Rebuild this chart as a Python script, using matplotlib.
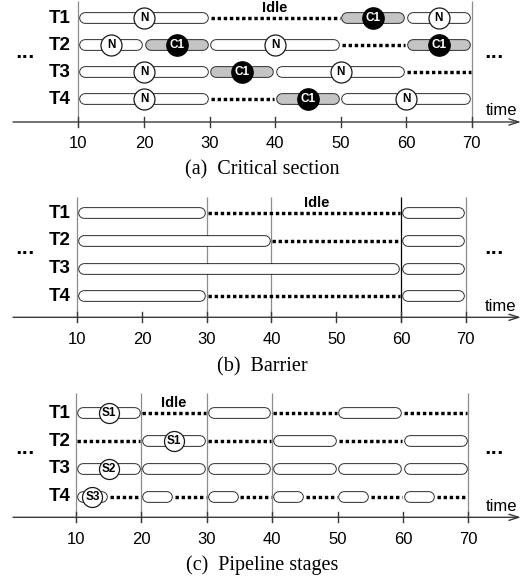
import matplotlib
matplotlib.use("Agg")
import matplotlib.pyplot as plt

plt.rcParams['font.family'] = ['Liberation Sans', 'DejaVu Sans']

W, H = 529, 579

# ---------------- data ----------------
threads = ["T1", "T2", "T3", "T4"]
tick_values = [10, 20, 30, 40, 50, 60, 70]
captions = ["(a)  Critical section", "(b)  Barrier", "(c)  Pipeline stages"]

# (start, end, kind) ; kind: "N"/"C1"/"S1".. labelled bars, "run" plain bar, "idle" dotted
crit_T1 = [(10, 30, "N"), (30, 50, "idle"), (50, 60, "C1"), (60, 70, "N")]
crit_T2 = [(10, 20, "N"), (20, 30, "C1"), (30, 50, "N"), (50, 60, "idle"), (60, 70, "C1")]
crit_T3 = [(10, 30, "N"), (30, 40, "C1"), (40, 60, "N"), (60, 70, "idle")]
crit_T4 = [(10, 30, "N"), (30, 40, "idle"), (40, 50, "C1"), (50, 70, "N")]

barrier_T1 = [(10, 30, "run"), (30, 60, "idle"), (60, 70, "run")]
barrier_T2 = [(10, 40, "run"), (40, 60, "idle"), (60, 70, "run")]
barrier_T3 = [(10, 60, "run"), (60, 70, "run")]
barrier_T4 = [(10, 30, "run"), (30, 60, "idle"), (60, 70, "run")]

pipe_T1 = [(10, 20, "S1"), (20, 30, "idle"), (30, 40, "run"), (40, 50, "idle"),
           (50, 60, "run"), (60, 70, "idle")]
pipe_T2 = [(10, 20, "idle"), (20, 30, "S1"), (30, 40, "idle"), (40, 50, "run"),
           (50, 60, "idle"), (60, 70, "run")]
pipe_T3 = [(10, 20, "S2"), (20, 30, "run"), (30, 40, "run"), (40, 50, "run"),
           (50, 60, "run"), (60, 70, "run")]
pipe_T4 = [(10, 15, "S3"), (15, 20, "idle"), (20, 25, "run"), (25, 30, "idle"),
           (30, 35, "run"), (35, 40, "idle"), (40, 45, "run"), (45, 50, "idle"),
           (50, 55, "run"), (55, 60, "idle"), (60, 65, "run"), (65, 70, "idle")]

vlines_a = [10, 70]
vlines_b = [10, 30, 40, 60, 70]
vlines_c = [10, 20, 30, 40, 70]
dark_vlines_b = [60]
idle_label_x = [40, 47, 25]

# ---------------- layout (pixels) ----------------
panels = [
    dict(top=0, bot=190, T1=18.3, sp=27.0, axis=122.0, vtop=1.0, x10=78.5, x70=471.7, cap=169.5,
         rows=[crit_T1, crit_T2, crit_T3, crit_T4], vl=vlines_a, dark=[], idle=idle_label_x[0],
         caption=captions[0]),
    dict(top=190, bot=385, T1=213.3, sp=27.6, axis=317.3, vtop=196.7, x10=77.3, x70=465.7, cap=366.7,
         rows=[barrier_T1, barrier_T2, barrier_T3, barrier_T4], vl=vlines_b, dark=dark_vlines_b,
         idle=idle_label_x[1], caption=captions[1]),
    dict(top=385, bot=579, T1=413.3, sp=27.8, axis=517.3, vtop=392.7, x10=76.0, x70=468.3, cap=565.0,
         rows=[pipe_T1, pipe_T2, pipe_T3, pipe_T4], vl=vlines_c, dark=[], idle=idle_label_x[2],
         caption=captions[2]),
]

PT = 72.0 / 100.0          # points per pixel
BAR_OUT = 11.6             # px
BAR_IN = 9.8               # px
GAP = 1.0                  # px
EDGE = '#1a1a1a'
GRAY_FILL = '#c4c4c4'
VLINE = '#8c8c8c'
AXC = '#3a3a3a'

fig = plt.figure(figsize=(W / 100, H / 100), dpi=100)

for p in panels:
    ax = fig.add_axes([0, 1 - p['bot'] / H, 1, (p['bot'] - p['top']) / H])
    ax.axis('off')
    scale = (p['x70'] - p['x10']) / 60.0

    def X(px, p=p, scale=scale):
        return 10 + (px - p['x10']) / scale

    def Y(py, p=p):
        return 1 + (py - p['T1']) / p['sp']

    ax.set_xlim(X(0), X(W))
    ax.set_ylim(Y(p['bot']), Y(p['top']))

    # vertical reference lines
    for v in p['vl']:
        col = 'black' if v in p['dark'] else VLINE
        ax.plot([v, v], [Y(p['vtop']), Y(p['axis'] + 5)], color=col, lw=0.9, zorder=1,
                solid_capstyle='butt')

    # time axis with arrow
    ax.annotate("", xy=(X(521), Y(p['axis'])), xytext=(X(13), Y(p['axis'])),
                arrowprops=dict(arrowstyle='->,head_length=0.7,head_width=0.22', lw=1.0,
                                color=AXC, shrinkA=0, shrinkB=0), zorder=2)
    for t in tick_values:
        ax.plot([t, t], [Y(p['axis'] - 5), Y(p['axis'] + 5)], color=AXC, lw=1.0, zorder=2)
        ax.text(t, Y(p['axis'] + 22), str(t), ha='center', va='center', fontsize=12)
    ax.text(X(501), Y(p['axis'] - 11), 'time', ha='center', va='center', fontsize=12)

    # caption
    ax.text(X(262), Y(p['cap']), p['caption'], ha='center', va='center', fontsize=14.5,
            family=['Liberation Serif', 'DejaVu Serif'])

    # Idle label
    ax.text(p['idle'], Y(p['T1'] - 10), 'Idle', ha='center', va='center', fontsize=10.5,
            fontweight='bold')

    # ellipsis marks
    mid = p['T1'] + 1.5 * p['sp'] - 3.5
    for xe in (25, 494):
        ax.text(X(xe), Y(mid + 2.5), '...', ha='center', va='baseline', fontsize=12.5,
                fontweight='bold', family=['DejaVu Sans'])

    # rows
    for i, segs in enumerate(p['rows']):
        y = i + 1
        ax.text(X(71), y, threads[i], ha='right', va='center', fontsize=13.5, fontweight='bold')
        for (s, e, kind) in segs:
            if kind == 'idle':
                ax.plot([s + GAP / scale, e - GAP / scale], [y, y], color='black',
                        lw=3.4 * PT, linestyle=(0, (1, 0.8)), dash_capstyle='butt', zorder=3)
                continue
            fill = GRAY_FILL if kind == 'C1' else 'white'
            r = BAR_OUT / 2
            x0 = s + (GAP + r) / scale
            x1 = e - (GAP + r) / scale
            ax.plot([x0, x1], [y, y], color=EDGE, lw=BAR_OUT * PT, solid_capstyle='round',
                    zorder=4)
            ax.plot([x0, x1], [y, y], color=fill, lw=BAR_IN * PT, solid_capstyle='round',
                    zorder=4.1)
            if kind != 'run':
                xm = (s + e) / 2
                if kind == 'C1':
                    ax.scatter([xm], [y], s=(21.5 * PT) ** 2, facecolor='black', edgecolor='black',
                               lw=0.8, zorder=5)
                    ax.text(xm, y, kind, ha='center', va='center', fontsize=8.5,
                            fontweight='bold', color='white', zorder=6)
                else:
                    d = 21 if kind == 'N' else 20
                    ax.scatter([xm], [y], s=(d * PT) ** 2, facecolor='white', edgecolor=EDGE,
                               lw=0.9, zorder=5)
                    ax.text(xm, y, kind, ha='center', va='center', fontsize=8.5,
                            fontweight='bold', color='black', zorder=6)

fig.savefig('out.png', dpi=100)
